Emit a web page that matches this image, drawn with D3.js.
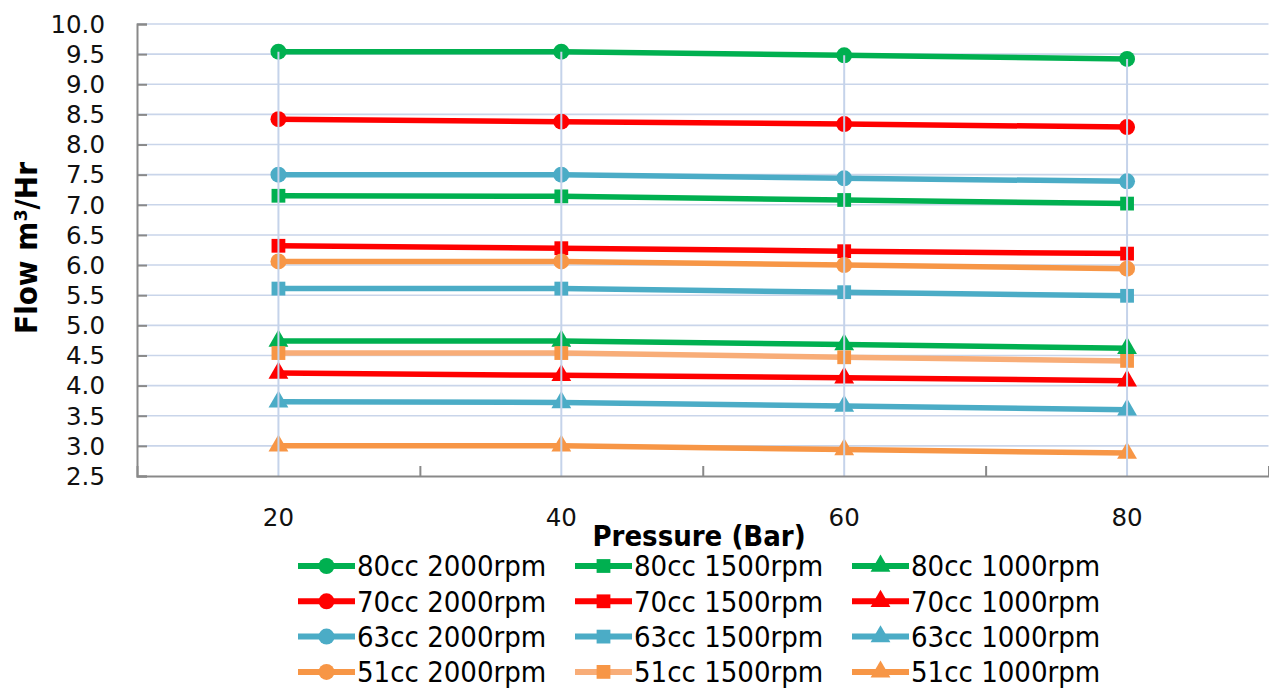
<!DOCTYPE html>
<html><head><meta charset="utf-8">
<script src="https://cdn.jsdelivr.net/npm/d3@7"></script>
<style>html,body{margin:0;padding:0;background:#fff;overflow:hidden}</style>
</head><body>
<svg id="chart" width="1269" height="691"></svg>
<script>
const pressures = [20, 40, 60, 80];
const yTicks = [2.5,3.0,3.5,4.0,4.5,5.0,5.5,6.0,6.5,7.0,7.5,8.0,8.5,9.0,9.5,10.0];
const xTickLabels = [20, 40, 60, 80];
const xMinorTicks = [30, 50, 70];

const s80_2000 = [9.54, 9.54, 9.48, 9.42];
const s80_1500 = [7.15, 7.14, 7.08, 7.02];
const s80_1000 = [4.74, 4.74, 4.68, 4.62];
const s70_2000 = [8.42, 8.38, 8.34, 8.29];
const s70_1500 = [6.32, 6.28, 6.23, 6.19];
const s70_1000 = [4.21, 4.17, 4.13, 4.08];
const s63_2000 = [7.50, 7.50, 7.44, 7.39];
const s63_1500 = [5.61, 5.61, 5.55, 5.49];
const s63_1000 = [3.73, 3.72, 3.66, 3.60];
const s51_2000 = [6.06, 6.06, 6.00, 5.94];
const s51_1500 = [4.54, 4.54, 4.47, 4.41];
const s51_1000 = [3.00, 3.00, 2.94, 2.88];

const seriesNames = ["80cc 2000rpm","80cc 1500rpm","80cc 1000rpm",
                     "70cc 2000rpm","70cc 1500rpm","70cc 1000rpm",
                     "63cc 2000rpm","63cc 1500rpm","63cc 1000rpm",
                     "51cc 2000rpm","51cc 1500rpm","51cc 1000rpm"];
const seriesValues = [s80_2000,s80_1500,s80_1000,s70_2000,s70_1500,s70_1000,
                      s63_2000,s63_1500,s63_1000,s51_2000,s51_1500,s51_1000];
const GREEN="#00b050", RED="#ff0000", BLUE="#4bacc6", ORANGE="#f79646", LORANGE="#f8ad78";
const lineColors = [GREEN,GREEN,GREEN,RED,RED,RED,BLUE,BLUE,BLUE,ORANGE,LORANGE,ORANGE];
const markerColors = [GREEN,GREEN,GREEN,RED,RED,RED,BLUE,BLUE,BLUE,ORANGE,ORANGE,ORANGE];
const markerShapes = ["circle","square","triangle","circle","square","triangle",
                      "circle","square","triangle","circle","square","triangle"];

const svg = d3.select("#chart");
const x = d3.scaleLinear().domain([10, 90]).range([137, 1268.5]);
const y = d3.scaleLinear().domain([2.5, 10]).range([476, 24]);
const gridCol = "#c9d5ea", axisCol = "#898989";

// horizontal gridlines
svg.append("g").selectAll("line").data(yTicks.filter(d=>d>2.5)).join("line")
  .attr("x1", x(10)).attr("x2", x(90)).attr("y1", d=>y(d)).attr("y2", d=>y(d))
  .attr("stroke", gridCol).attr("stroke-width", 1.6);

const symbolFor = (shape, size) => {
  if (shape === "circle") return d3.symbol().type(d3.symbolCircle).size(size*1.0)();
  if (shape === "square") return d3.symbol().type(d3.symbolSquare).size(size*0.95)();
  return d3.symbol().type(d3.symbolTriangle).size(size*0.85)();
};

const line = d3.line().x((d,i)=>x(pressures[i])).y(d=>y(d));
const plot = svg.append("g");
seriesValues.forEach((vals, k) => {
  const g = plot.append("g");
  g.append("path").datum(vals).attr("d", line).attr("fill","none")
    .attr("stroke", lineColors[k]).attr("stroke-width", 5.5).attr("stroke-linejoin","round");
  g.selectAll("path.m").data(vals).join("path").attr("class","m")
    .attr("transform", (d,i)=>`translate(${x(pressures[i])},${y(d)})`)
    .attr("d", symbolFor(markerShapes[k], 200)).attr("fill", markerColors[k]);
});

// drop lines (on top of markers)
const maxVals = pressures.map((p,i)=>d3.max(seriesValues, s=>s[i]));
svg.append("g").selectAll("line").data(pressures).join("line")
  .attr("x1", d=>x(d)).attr("x2", d=>x(d)).attr("y1", (d,i)=>y(maxVals[i])).attr("y2", y(2.5))
  .attr("stroke", "#c5d3ea").attr("stroke-width", 2);

// axes
const yAxis = svg.append("g").attr("transform", `translate(${x(10)},0)`)
  .call(d3.axisRight(y).tickValues(yTicks).tickSize(10).tickFormat(""));
yAxis.select(".domain").attr("stroke", axisCol).attr("stroke-width", 2);
yAxis.selectAll(".tick line").attr("stroke", axisCol).attr("stroke-width", 2);

const xAxis = svg.append("g").attr("transform", `translate(0,${y(2.5)})`)
  .call(d3.axisTop(x).tickValues(xMinorTicks).tickSize(10).tickFormat(""));
xAxis.select(".domain").attr("stroke", axisCol).attr("stroke-width", 2);
xAxis.selectAll(".tick line").attr("stroke", axisCol).attr("stroke-width", 2);

// tick labels
svg.append("g").selectAll("text").data(yTicks).join("text")
  .attr("x", 105).attr("y", d=>y(d)).attr("dy","0.36em").attr("text-anchor","end")
  .attr("font-family","DejaVu Sans").attr("font-size", 24.5).attr("fill","#111")
  .text(d=>d.toFixed(1));
svg.append("g").selectAll("text").data(xTickLabels).join("text")
  .attr("x", d=>x(d)).attr("y", 526).attr("text-anchor","middle")
  .attr("font-family","DejaVu Sans").attr("font-size", 24.5).attr("fill","#111")
  .text(d=>d);

// axis titles
svg.append("text").attr("x", 699).attr("y", 546).attr("text-anchor","middle")
  .attr("font-family","DejaVu Sans Condensed, DejaVu Sans").attr("font-stretch","condensed")
  .attr("font-weight","bold").attr("font-size", 29)
  .text("Pressure (Bar)");
svg.append("text").attr("transform","translate(37,248) rotate(-90)").attr("text-anchor","middle")
  .attr("font-family","DejaVu Sans Condensed, DejaVu Sans").attr("font-stretch","condensed")
  .attr("font-weight","bold").attr("font-size", 31)
  .text("Flow m³/Hr");

// legend
const leg = svg.append("g");
seriesNames.forEach((name, k) => {
  const col = k % 3, row = Math.floor(k / 3);
  const lx = 298 + col * 277, ly = 566 + row * 35.3;
  const g = leg.append("g").attr("transform", `translate(${lx},${ly})`);
  g.append("line").attr("x1",0).attr("x2",57).attr("y1",0).attr("y2",0)
    .attr("stroke", lineColors[k]).attr("stroke-width", 6);
  g.append("path").attr("transform","translate(28.5,0)")
    .attr("d", symbolFor(markerShapes[k], 200)).attr("fill", markerColors[k]);
  g.append("text").attr("x", 59).attr("y", 0).attr("dy","0.36em")
    .attr("font-family","DejaVu Sans Condensed, DejaVu Sans").attr("font-stretch","condensed")
    .attr("font-size", 29).attr("fill","#000").text(name);
});
</script>
</body></html>
